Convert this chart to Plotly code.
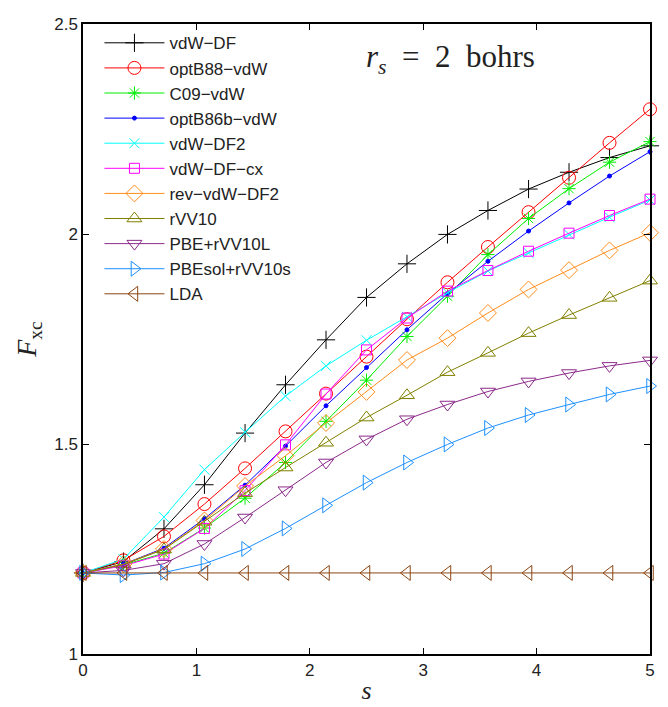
import plotly.graph_objects as go

# reduced gradient grid
s = [0, 0.357, 0.714, 1.071, 1.429, 1.786, 2.143, 2.5, 2.857, 3.214, 3.571, 3.929, 4.286, 4.643, 5]

vdw_df = [1.193, 1.220, 1.298, 1.403, 1.526, 1.641, 1.748, 1.849, 1.929, 1.999, 2.056, 2.107, 2.147, 2.182, 2.210]
optb88 = [1.193, 1.223, 1.280, 1.357, 1.442, 1.530, 1.620, 1.708, 1.797, 1.885, 1.969, 2.052, 2.134, 2.217, 2.297]
c09 = [1.193, 1.212, 1.240, 1.300, 1.371, 1.456, 1.554, 1.652, 1.756, 1.852, 1.951, 2.037, 2.108, 2.171, 2.220]
optb86b = [1.193, 1.214, 1.252, 1.322, 1.402, 1.495, 1.591, 1.682, 1.772, 1.858, 1.935, 2.007, 2.074, 2.138, 2.196]
vdw_df2 = [1.193, 1.226, 1.326, 1.439, 1.528, 1.614, 1.686, 1.747, 1.803, 1.860, 1.912, 1.955, 1.999, 2.040, 2.081]
vdw_df_cx = [1.193, 1.210, 1.238, 1.299, 1.389, 1.498, 1.619, 1.724, 1.800, 1.864, 1.913, 1.959, 2.002, 2.044, 2.083]
rev_vdw_df2 = [1.193, 1.214, 1.250, 1.318, 1.400, 1.472, 1.550, 1.624, 1.700, 1.752, 1.812, 1.868, 1.914, 1.961, 2.003]
rvv10 = [1.193, 1.213, 1.249, 1.315, 1.383, 1.444, 1.503, 1.563, 1.616, 1.671, 1.717, 1.764, 1.807, 1.848, 1.889]
pbe_rvv10l = [1.193, 1.199, 1.215, 1.262, 1.325, 1.390, 1.456, 1.511, 1.559, 1.594, 1.625, 1.649, 1.669, 1.686, 1.699]
pbesol_rvv10s = [1.193, 1.188, 1.194, 1.215, 1.250, 1.299, 1.354, 1.408, 1.456, 1.499, 1.538, 1.569, 1.594, 1.618, 1.638]
lda = [1.193, 1.193, 1.193, 1.193, 1.193, 1.193, 1.193, 1.193, 1.193, 1.193, 1.193, 1.193, 1.193, 1.193, 1.193]

names = ["vdW\u2212DF", "optB88\u2212vdW", "C09\u2212vdW", "optB86b\u2212vdW", "vdW\u2212DF2",
         "vdW\u2212DF\u2212cx", "rev\u2212vdW\u2212DF2", "rVV10", "PBE+rVV10L", "PBEsol+rVV10s", "LDA"]
series = [vdw_df, optb88, c09, optb86b, vdw_df2, vdw_df_cx, rev_vdw_df2, rvv10, pbe_rvv10l, pbesol_rvv10s, lda]

colors = ["#000000", "#ff0000", "#00ee00", "#0000ff", "#00ffff", "#ff00ff",
          "#ff8c1a", "#808000", "#8b2a8b", "#1e90ff", "#8b4513"]
symbols = ["cross-thin", "circle-open", "asterisk", "circle", "x-thin", "square-open",
           "diamond-open", "triangle-up-open", "triangle-down-open", "triangle-right-open", "triangle-left-open"]
sizes = [13, 13, 11, 4, 10, 10, 13, 13, 13, 13, 13]

fig = go.Figure()
for i, (name, ys) in enumerate(zip(names, series)):
    fig.add_trace(go.Scatter(
        x=s, y=ys, name=name, mode="lines+markers",
        legendgroup=f"g{i}",
        line=dict(color=colors[i], width=1),
        marker=dict(symbol=symbols[i], size=sizes[i], color=colors[i],
                    line=dict(color=colors[i], width=1)),
        cliponaxis=False,
    ))

axis_common = dict(
    showline=True, linecolor="black", linewidth=1.5, mirror="allticks",
    ticks="inside", ticklen=6, tickcolor="black", tickwidth=1,
    showgrid=False, zeroline=False, ticklabeloverflow="allow",
    tickfont=dict(family="Liberation Sans", size=17, color="#222222"),
)

fig.update_xaxes(range=[0, 5], tickvals=[0, 1, 2, 3, 4, 5],
                 title=dict(text="<i>s</i>", font=dict(family="Liberation Serif", size=26, color="#222222"), standoff=2),
                 **axis_common)
fig.update_yaxes(range=[1, 2.5], tickvals=[1, 1.5, 2, 2.5], ticktext=["1", "1.5", "2", "2.5"],
                 title=dict(text="<i>F</i><sub>xc</sub>", font=dict(family="Liberation Serif", size=28, color="#222222"), standoff=9),
                 **axis_common)

fig.add_annotation(x=0.648, y=0.979, xref="paper", yref="paper", showarrow=False,
                   text="<i>r<sub>s</sub></i>&nbsp;&nbsp;=&nbsp;&nbsp;2&nbsp;&nbsp;bohrs",
                   font=dict(family="Liberation Serif", size=31, color="#222222"))

# page body has an 8px margin, so the figure is sized/positioned to compensate
fig.update_layout(
    width=660, height=699,
    margin=dict(l=75, r=18, t=7, b=50),
    plot_bgcolor="white", paper_bgcolor="white",
    legend=dict(x=0.029, y=0.998, xanchor="left", yanchor="top",
                font=dict(family="Liberation Sans", size=17, color="#222222"),
                bgcolor="rgba(255,255,255,0)", borderwidth=0,
                itemwidth=60,
                traceorder="grouped", tracegroupgap=0),
)

fig.write_html("out.html")
